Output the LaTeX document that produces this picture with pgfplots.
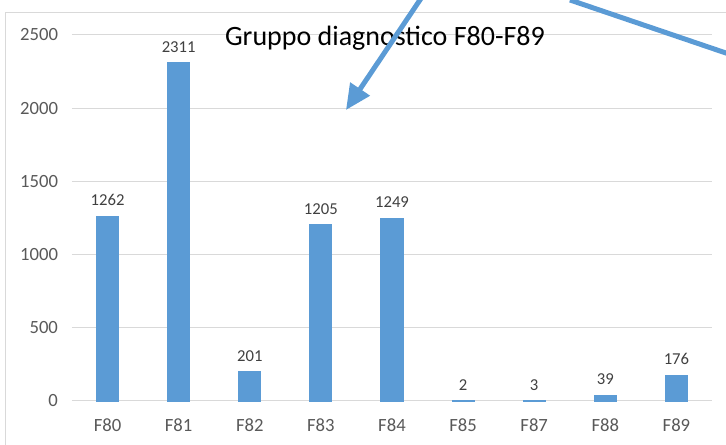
\documentclass[border=0pt]{standalone}
\usepackage{pgfplots}
\pgfplotsset{compat=1.18}
\usepackage{fontspec}
\setmainfont{Carlito}
\usetikzlibrary{arrows.meta}
\definecolor{barblue}{HTML}{5B9BD5}
\definecolor{gridc}{HTML}{D9D9D9}
\definecolor{tickc}{HTML}{595959}
\definecolor{labc}{HTML}{404040}
\begin{document}
\begin{tikzpicture}[x=0.75pt,y=0.75pt]
\useasboundingbox (0,0) rectangle (726,445);
\begin{scope}
\clip (0,0) rectangle (726,445);
\draw[gridc, line width=0.75pt] (5,-10) -- (5,432) -- (740,432);
\end{scope}
\begin{axis}[
  at={(54pt,33pt)}, anchor=south west,
  scale only axis, width=480pt, height=274.5pt,
  xmin=-0.5, xmax=8.5, ymin=0, ymax=2500,
  ytick={0,500,...,2500},
  xtick={0,...,8},
  xticklabels={F80,F81,F82,F83,F84,F85,F87,F88,F89},
  /pgf/number format/assume math mode=true,
  /pgf/number format/1000 sep={},
  axis x line=bottom, axis y line=left,
  x axis line style={draw=gridc, line width=0.75pt, -},
  y axis line style={draw=none},
  major tick length=0pt,
  ymajorgrids, grid style={draw=gridc, line width=0.75pt},
  tick label style={font=\fontsize{14}{16}\selectfont, text=tickc},
  yticklabel style={xshift=-7pt},
  xticklabel style={yshift=-10pt},
  ybar, bar width=16.5pt,
  nodes near coords,
  every node near coord/.append style={font=\fontsize{12.5}{14}\selectfont, text=labc, yshift=4pt},
  clip=false,
]
\addplot[fill=barblue, draw=barblue, line width=0.9pt] coordinates {(0,1262) (1,2311) (2,201) (3,1205) (4,1249) (5,2) (6,3) (7,39) (8,176)};
\end{axis}
\node[anchor=base, font=\fontsize{21}{25}\selectfont] at (385,399) {Gruppo diagnostico F80-F89};
\begin{scope}
\clip (0,0) rectangle (726,445);
\draw[barblue, line width=3.75pt, -{Triangle[length=19pt, width=17pt]}] (428,457) -- (346,335);
\draw[barblue, line width=3.75pt] (570,445) -- (770,377);
\end{scope}
\end{tikzpicture}
\end{document}
